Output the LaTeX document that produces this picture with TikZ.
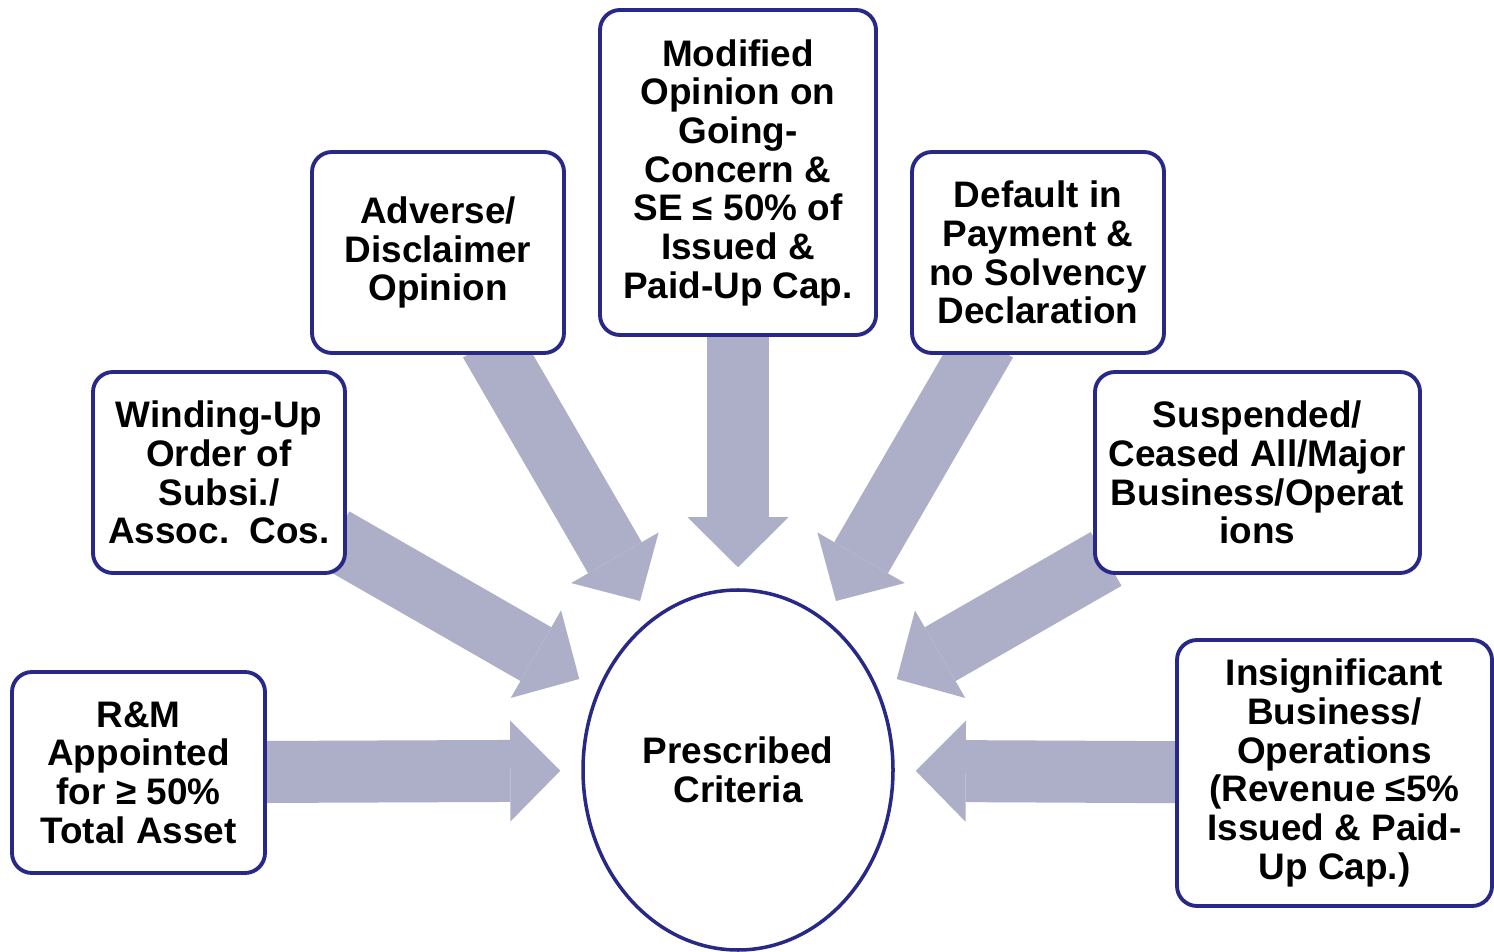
\documentclass[tikz,border=0pt]{standalone}
\usepackage{fontspec}
\setmainfont{Liberation Sans}
\usetikzlibrary{shapes.geometric,arrows.meta,backgrounds}
\definecolor{boxblue}{RGB}{40,40,135}
\definecolor{arrowgray}{RGB}{173,174,199}

\begin{document}
\begin{tikzpicture}[font=\fontsize{21}{22}\selectfont\bfseries,
  box/.style 2 args={draw=boxblue, line width=2.2pt, fill=white, rounded corners=0.4cm,
    align=center, inner sep=0pt, minimum width=#1, minimum height=#2},
  bigarrow/.style={draw=arrowgray, line width=1.24cm,
    -{Triangle[width=2.02cm,length=1cm,line width=0pt]},
    shorten <=-0.3cm, shorten >=0.42cm}]
  \useasboundingbox (0,0) rectangle (29.88,19.02);

  % centre
  \node[ellipse, draw=boxblue, line width=2pt, fill=white, align=center,
    minimum width=6.2cm, minimum height=7.2cm] (crit) at (14.76,3.62) {Prescribed\\Criteria};

  % criteria boxes, left to right
  \node[box={5.06cm}{4.02cm}] (rm) at (2.77,3.57) {R\&M\\Appointed\\for ≥ 50\%\\Total Asset};
  \node[box={5.04cm}{4.02cm}] (wind) at (4.38,9.57) {Winding-Up\\Order of\\Subsi./\\Assoc.~~Cos.};
  \node[box={5.04cm}{4.02cm}] (adv) at (8.76,13.97) {Adverse/\\Disclaimer\\Opinion};
  \node[box={5.52cm}{6.5cm}] (mod) at (14.76,15.57) {Modified\\Opinion on\\Going-\\Concern \&\\SE ≤ 50\% of\\Issued \&\\Paid-Up Cap.};
  \node[box={5.04cm}{4.02cm}] (def) at (20.76,13.97) {Default in\\Payment \&\\no Solvency\\Declaration};
  \node[box={6.5cm}{4.02cm}] (susp) at (25.15,9.57) {Suspended/\\Ceased All/Major\\Business/Operat\\ions};
  \node[box={6.3cm}{5.32cm}] (insig) at (26.69,3.56) {Insignificant\\Business/\\Operations\\(Revenue ≤5\%\\Issued \& Paid-\\Up Cap.)};

  % arrows behind the boxes
  \begin{scope}[on background layer]
    \foreach \b in {rm,wind,adv,mod,def,susp,insig}
      \draw[bigarrow] (\b) -- (crit);
  \end{scope}
\end{tikzpicture}
\end{document}
